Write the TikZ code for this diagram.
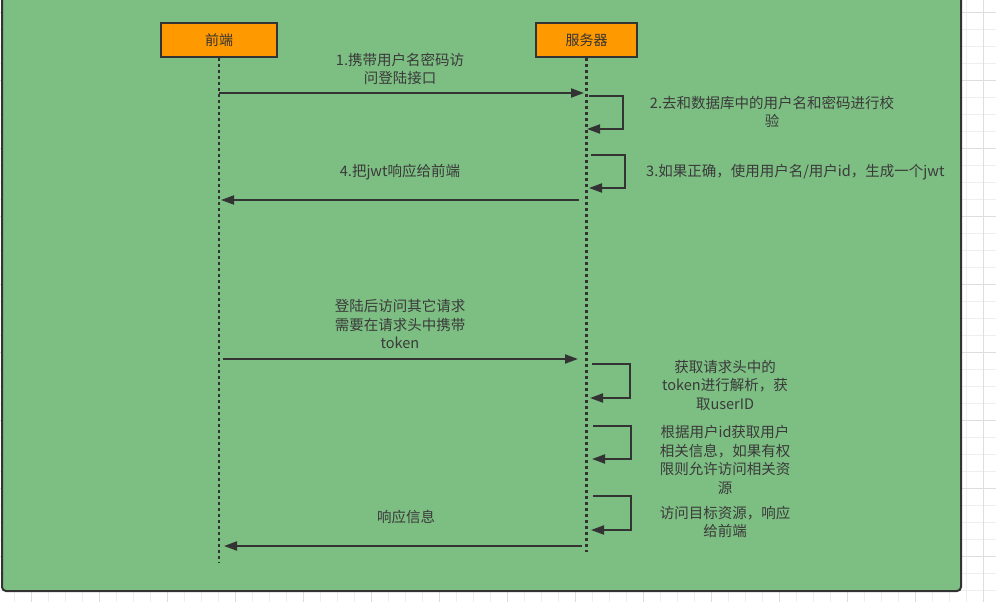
\documentclass[tikz,border=0pt]{standalone}
\usepackage{fontspec}
\setmainfont{Noto Sans CJK SC}
\usetikzlibrary{arrows.meta}
\definecolor{bggreen}{RGB}{125,190,131}
\definecolor{boxorange}{RGB}{255,153,0}
\definecolor{ink}{RGB}{51,51,51}
\definecolor{txt}{RGB}{58,58,58}
\definecolor{gridminor}{RGB}{238,238,238}
\definecolor{gridmajor}{RGB}{222,222,222}
\tikzset{
  actor/.style={draw=ink, line width=2pt, fill=boxorange, minimum height=34pt, inner sep=0pt, text=ink, font=\fontsize{14}{17}\selectfont},
  lifeline/.style={draw=ink, line width=2.6pt, dash pattern=on 2.6pt off 3.4pt},
  msg/.style={draw=ink, line width=2pt, -{Triangle[length=13pt,width=9pt]}},
  lbl/.style={text=txt, align=center, inner sep=0pt, font=\fontsize{14.5}{18.5}\selectfont}
}
\begin{document}
\begin{tikzpicture}[x=1pt,y=-1pt]
\useasboundingbox (0,0) rectangle (996,602);
% background grid
\fill[white] (0,0) rectangle (996,602);
\foreach \i in {0,...,60} {
  \draw[gridminor, line width=0.8pt] ({983-17*\i},0) -- ({983-17*\i},602);
  \draw[gridminor, line width=0.8pt] (0,{216-17*\i+17*24}) -- (996,{216-17*\i+17*24});
}
\foreach \i in {0,...,15} {
  \draw[gridmajor, line width=0.9pt] ({983-68*\i},0) -- ({983-68*\i},602);
  \draw[gridmajor, line width=0.9pt] (0,{216-68*\i+68*6}) -- (996,{216-68*\i+68*6});
}
% green container
\draw[draw=ink, line width=2pt, fill=bggreen, rounded corners=4pt] (2,-20) rectangle (961,591);
% actors
\node[actor, minimum width=116pt] (fe) at (219,40) {前端};
\node[actor, minimum width=101pt] (sv) at (586.5,40) {服务器};
\coordinate (feEnd) at (219,563);
\coordinate (svEnd) at (586.5,552);
\draw[lifeline] (fe.south) -- (feEnd);
\draw[lifeline] (sv.south) -- (svEnd);
% message 1
\coordinate (m1a) at (219,93);
\coordinate (m1b) at (584,93);
\draw[msg] (m1a) -- (m1b);
\node[lbl] (l1) at (400,69) {1.携带用户名密码访\\问登陆接口};
% self loop 2
\coordinate (s2a) at (589,96);
\coordinate (s2b) at (623,96);
\coordinate (s2c) at (623,129);
\coordinate (s2d) at (587,129);
\draw[msg] (s2a) -- (s2b) -- (s2c) -- (s2d);
\node[lbl] (l2) at (772,112) {2.去和数据库中的用户名和密码进行校\\验};
% self loop 3
\coordinate (s3a) at (591,155);
\coordinate (s3b) at (625,155);
\coordinate (s3c) at (625,188);
\coordinate (s3d) at (589,188);
\draw[msg] (s3a) -- (s3b) -- (s3c) -- (s3d);
\node[lbl, anchor=west] (l3) at (646,172) {3.如果正确，使用用户名/用户id，生成一个jwt};
% message 4
\coordinate (m4a) at (579,200);
\coordinate (m4b) at (221,200);
\draw[msg] (m4a) -- (m4b);
\node[lbl] (l4) at (400,172) {4.把jwt响应给前端};
% message 5
\coordinate (m5a) at (223,359);
\coordinate (m5b) at (578,359);
\draw[msg] (m5a) -- (m5b);
\node[lbl] (l5) at (400,324) {登陆后访问其它请求\\需要在请求头中携带\\token};
% self loop 6
\coordinate (s6a) at (592,364);
\coordinate (s6b) at (630,364);
\coordinate (s6c) at (630,398);
\coordinate (s6d) at (590,398);
\draw[msg] (s6a) -- (s6b) -- (s6c) -- (s6d);
\node[lbl] (l6) at (725,385) {获取请求头中的\\token进行解析，获\\取userID};
% self loop 7
\coordinate (s7a) at (593,426);
\coordinate (s7b) at (631,426);
\coordinate (s7c) at (631,459);
\coordinate (s7d) at (592,459);
\draw[msg] (s7a) -- (s7b) -- (s7c) -- (s7d);
\node[lbl] (l7) at (725,460) {根据用户id获取用户\\相关信息，如果有权\\限则允许访问相关资\\源};
% self loop 8
\coordinate (s8a) at (593,496);
\coordinate (s8b) at (631,496);
\coordinate (s8c) at (631,530);
\coordinate (s8d) at (591,530);
\draw[msg] (s8a) -- (s8b) -- (s8c) -- (s8d);
\node[lbl] (l8) at (725,522) {访问目标资源，响应\\给前端};
% message 9
\coordinate (m9a) at (582,546);
\coordinate (m9b) at (224,546);
\draw[msg] (m9a) -- (m9b);
\node[lbl] (l9) at (406,517) {响应信息};
\end{tikzpicture}
\end{document}
